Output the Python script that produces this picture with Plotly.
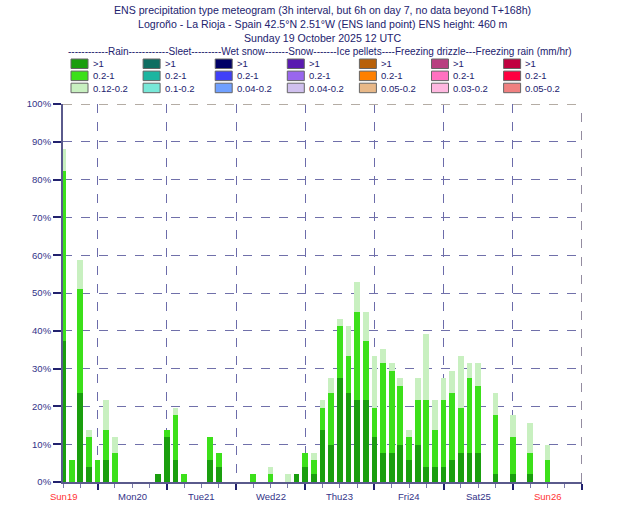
import plotly.graph_objects as go

# ---------------- data ----------------
hours = list(range(0, 145, 3)) + [150, 156, 162, 168]
# cumulative probabilities (%) of rain rate > 1, > 0.2, > 0.12 mm/hr
p_gt1 = [37.3, 0, 23.5, 3.9, 0, 5.9, 0, 0, 0, 0, 0, 2.0, 11.8, 5.9, 0, 0, 0, 5.9, 3.9, 0,
         0, 0, 0, 0, 0, 0, 0, 2.0, 3.9, 2.0, 13.7, 9.8, 27.5, 23.5, 21.6, 21.6, 11.8, 7.8, 7.8, 9.8,
         5.9, 9.8, 3.9, 3.9, 3.9, 5.9, 7.8, 7.8, 7.8, 2.0, 2.0, 2.0, 0]
p_gt02 = [82.4, 5.9, 51.0, 11.8, 5.9, 13.7, 7.8, 0, 0, 0, 0, 2.0, 13.7, 17.6, 2.0, 0, 0, 11.8, 7.8, 0,
          0, 0, 2.0, 0, 2.0, 0, 0, 2.0, 7.8, 5.9, 19.6, 23.5, 41.2, 33.3, 45.1, 37.3, 19.6, 31.4, 29.4, 25.5,
          11.8, 21.6, 21.6, 13.7, 21.6, 23.5, 19.6, 27.5, 25.5, 17.6, 11.8, 7.8, 5.9]
p_gt012 = [88.2, 5.9, 58.8, 13.7, 5.9, 21.6, 11.8, 0, 0, 0, 0, 2.0, 13.7, 19.6, 2.0, 0, 0, 11.8, 7.8, 0,
           0, 0, 2.0, 0, 3.9, 0, 2.0, 2.0, 7.8, 7.8, 21.6, 27.5, 43.1, 41.2, 52.9, 45.1, 33.3, 35.3, 31.4, 27.5,
           13.7, 27.5, 39.2, 21.6, 27.5, 29.4, 33.3, 31.4, 31.4, 23.5, 17.6, 15.7, 9.8]

day_label_hours = [0, 24, 48, 72, 96, 120, 144, 168]
day_labels = ["Sun19", "Mon20", "Tue21", "Wed22", "Thu23", "Fri24", "Sat25", "Sun26"]
day_boundaries = [12, 36, 60, 84, 108, 132, 156, 180]
y_ticks = list(range(0, 101, 10))
y_ticktext = [f"{v}%" for v in y_ticks]

title_lines = [
    "ENS precipitation type meteogram (3h interval, but 6h on day 7, no data beyond T+168h)",
    "Logroño - La Rioja - Spain 42.5°N 2.51°W (ENS land point) ENS height: 460 m",
    "Sunday 19 October 2025 12 UTC",
]
legend_header = ("------------Rain------------Sleet---------Wet snow-------Snow-------Ice pellets"
                 "----Freezing drizzle---Freezing rain (mm/hr)")
legend_labels = [
    [">1", "0.2-1", "0.12-0.2"],
    [">1", "0.2-1", "0.1-0.2"],
    [">1", "0.2-1", "0.04-0.2"],
    [">1", "0.2-1", "0.04-0.2"],
    [">1", "0.2-1", "0.05-0.2"],
    [">1", "0.2-1", "0.03-0.2"],
    [">1", "0.2-1", "0.05-0.2"],
]
legend_colors = [
    ["#1a9e0e", "#3ce01a", "#c8f0c0"],
    ["#0e6e62", "#1cb5a0", "#78e8d8"],
    ["#000066", "#4040f8", "#70a0ff"],
    ["#5a1ab0", "#9966ee", "#d0c0ee"],
    ["#b86008", "#ff8000", "#e8b888"],
    ["#b84080", "#ff70c0", "#ffb8e0"],
    ["#c00040", "#ff0040", "#f08080"],
]

# ---------------- layout geometry ----------------
W, H = 630, 525
L, R, T, B = 63, 48, 104, 43
PW, PH = W - L - R, H - T - B
NAVY = "#22226e"
FONT = "Liberation Sans, Arial, sans-serif"


def px(xp):
    return (xp - L) / PW


def py(yp):
    return (H - B - yp) / PH


fig = go.Figure()
rain = legend_colors[0]
for vals, col in [(p_gt012, rain[2]), (p_gt02, rain[1]), (p_gt1, rain[0])]:
    fig.add_trace(go.Bar(x=hours, y=vals, width=2.0, marker=dict(color=col, line=dict(width=0)),
                         showlegend=False, hoverinfo="skip"))

shapes = []
annotations = []

# title
for i, line in enumerate(title_lines):
    annotations.append(dict(text=line, xref="paper", yref="paper", x=0.5, y=py(10 + 14.2 * i),
                            xanchor="center", yanchor="middle", showarrow=False,
                            font=dict(family=FONT, size=10.6, color=NAVY)))

# legend header
annotations.append(dict(text=legend_header, xref="paper", yref="paper", x=px(66), y=py(52),
                        xanchor="left", yanchor="middle", showarrow=False,
                        font=dict(family=FONT, size=10, color=NAVY)))
# legend swatches
for c in range(7):
    x0 = 71 + 72.1 * c
    for r in range(3):
        y0 = 59 + 12.1 * r
        shapes.append(dict(type="rect", xref="paper", yref="paper", x0=px(x0), x1=px(x0 + 17),
                           y0=py(y0), y1=py(y0 + 9.5), fillcolor=legend_colors[c][r],
                           line=dict(color="#666666", width=1)))
        annotations.append(dict(text=legend_labels[c][r], xref="paper", yref="paper", x=px(x0 + 19.5),
                                y=py(y0 + 4.8), xanchor="left", yanchor="middle", showarrow=False,
                                font=dict(family=FONT, size=9.5, color=NAVY)))

# day labels
for hval, lab in zip(day_label_hours, day_labels):
    col = "#ff3333" if lab.startswith("Sun") else "#333388"
    annotations.append(dict(text=lab, xref="x", yref="paper", x=hval, y=py(496),
                            xanchor="center", yanchor="middle", showarrow=False,
                            font=dict(family=FONT, size=9.5, color=col)))

# top (100%) line and right border
shapes.append(dict(type="line", xref="paper", yref="y", x0=0, x1=1, y0=100, y1=100,
                   line=dict(color="#b4aca4", width=2, dash="dash"), layer="above"))
shapes.append(dict(type="line", xref="x", yref="paper", x0=180, x1=180, y0=0, y1=1,
                   line=dict(color="#948ca0", width=2, dash="dash"), layer="above"))

fig.update_layout(
    width=W, height=H,
    margin=dict(l=L, r=R, t=T, b=B, pad=0),
    paper_bgcolor="white", plot_bgcolor="white",
    barmode="overlay", bargap=0,
    showlegend=False,
    font=dict(family=FONT, size=9.5, color=NAVY),
    shapes=shapes, annotations=annotations,
    xaxis=dict(range=[0, 180], tickmode="array", tickvals=day_boundaries, showticklabels=False,
               ticks="outside", ticklen=6, tickwidth=2, tickcolor=NAVY,
               showgrid=True, gridcolor="#6c6caa", gridwidth=1, griddash="dash",
               showline=True, linecolor="#5a5a8c", linewidth=2, zeroline=False,
               minor=dict(dtick=6, tick0=0, ticks="outside", ticklen=4, tickwidth=1,
                          tickcolor="#7a7aa8", showgrid=False)),
    yaxis=dict(range=[0, 100], tickmode="array", tickvals=y_ticks, ticktext=y_ticktext,
               ticks="outside", ticklen=8, tickwidth=1.5, tickcolor=NAVY,
               tickfont=dict(family=FONT, size=9.5, color="#333388"),
               showgrid=True, gridcolor="#7070aa", gridwidth=1, griddash="dash",
               showline=True, linecolor="#5a5a8c", linewidth=2, zeroline=False),
)

fig.write_html("out.html")
